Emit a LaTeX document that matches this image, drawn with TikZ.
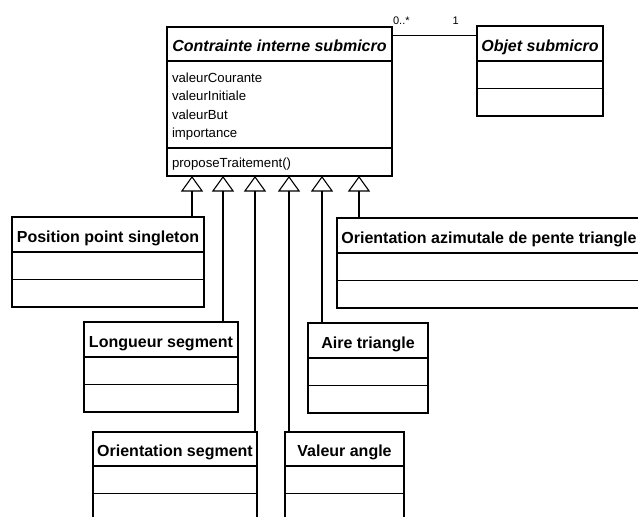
\documentclass[tikz,border=0pt]{standalone}
\usepackage{fontspec}
\setmainfont{Liberation Sans}
\usetikzlibrary{arrows.meta,positioning}
\newcommand\clsfont{\fontsize{16}{19}\selectfont\bfseries}
\newcommand\memfont{\fontsize{13.2}{18.3}\selectfont}
\newcommand\multfont{\fontsize{11}{13}\selectfont}
\tikzset{
  every picture/.style={line width=1.1pt},
  cls/.style={draw, font=\clsfont, anchor=north west, minimum height=35pt, inner sep=0pt, outer sep=0pt, text height=15.5pt, text depth=0pt},
  abstractcls/.style={cls, font=\clsfont\itshape},
  comp/.style={draw, minimum height=27.5pt, inner sep=0pt, outer sep=0pt},
  members/.style={draw, font=\memfont, align=left, inner xsep=5pt, inner ysep=0pt, outer sep=0pt},
  gen/.style={-{Triangle[open, length=15.5pt, width=22pt]}},
  mult/.style={font=\multfont, inner sep=0pt},
}

\begin{document}
\begin{tikzpicture}[x=1pt, y=-1pt]
  \useasboundingbox (0,0) rectangle (638,517);
  % abstract parent class and its association
  \node[abstractcls, minimum width=225pt, minimum height=34pt] (cis) at (167,27) {Contrainte interne submicro};
  \node[members, minimum height=87pt, text width=215pt, below=0pt of cis] (cisAttr) {\rule{0pt}{14pt}valeurCourante\\valeurInitiale\\valeurBut\\importance};
  \node[members, minimum height=28pt, text width=215pt, below=0pt of cisAttr] (cisOps) {\rule{0pt}{13pt}proposeTraitement()};

  \node[abstractcls, minimum width=126pt] (obj) at (477,26) {Objet submicro};
  \node[comp, minimum width=126pt, below=0pt of obj] (obj1) {};
  \node[comp, minimum width=126pt, below=0pt of obj1] (obj2) {};

  \draw ([yshift=8pt]obj.west) -- ([yshift=8pt]obj.west -| cis.east)
    node[mult, pos=0.25, above=10pt] {1}
    node[mult, pos=0.89, above=10pt] {0..*};

  % subclasses
  \node[cls, minimum width=192pt] (pps) at (12,217) {Position point singleton};
  \node[comp, minimum width=192pt, below=0pt of pps] (pps1) {};
  \node[comp, minimum width=192pt, below=0pt of pps1] (pps2) {};

  \node[cls, minimum width=304pt] (oap) at (337,218) {Orientation azimutale de pente triangle};
  \node[comp, minimum width=304pt, below=0pt of oap] (oap1) {};
  \node[comp, minimum width=304pt, below=0pt of oap1] (oap2) {};

  \node[cls, minimum width=154pt] (lgs) at (84,322) {Longueur segment};
  \node[comp, minimum width=154pt, below=0pt of lgs] (lgs1) {};
  \node[comp, minimum width=154pt, below=0pt of lgs1] (lgs2) {};

  \node[cls, minimum width=120pt] (art) at (308,323) {Aire triangle};
  \node[comp, minimum width=120pt, below=0pt of art] (art1) {};
  \node[comp, minimum width=120pt, below=0pt of art1] (art2) {};

  \node[cls, minimum width=164pt, minimum height=34pt] (ors) at (93,432) {Orientation segment};
  \node[comp, minimum width=164pt, below=0pt of ors] (ors1) {};
  \node[comp, minimum width=164pt, below=0pt of ors1] (ors2) {};

  \node[cls, minimum width=119pt, minimum height=34pt] (vag) at (285,432) {Valeur angle};
  \node[comp, minimum width=119pt, below=0pt of vag] (vag1) {};
  \node[comp, minimum width=119pt, below=0pt of vag1] (vag2) {};

  % generalisation
  \draw[gen] ([xshift=-12pt]pps.north east) -- ([xshift=-12pt]pps.north east |- cisOps.south);
  \draw[gen] ([xshift=-15pt]lgs.north east) -- ([xshift=-15pt]lgs.north east |- cisOps.south);
  \draw[gen] ([xshift=-2pt]ors.north east) -- ([xshift=-2pt]ors.north east |- cisOps.south);
  \draw[gen] ([xshift=4pt]vag.north west) -- ([xshift=4pt]vag.north west |- cisOps.south);
  \draw[gen] ([xshift=14pt]art.north west) -- ([xshift=14pt]art.north west |- cisOps.south);
  \draw[gen] ([xshift=22pt]oap.north west) -- ([xshift=22pt]oap.north west |- cisOps.south);
\end{tikzpicture}
\end{document}
